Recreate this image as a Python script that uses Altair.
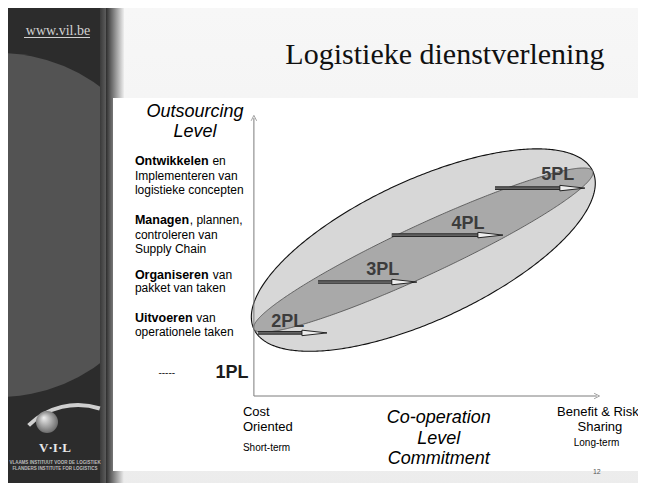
import altair as alt
import numpy as np
import pandas as pd

# ---------------- data (diagram units: co-operation level x, outsourcing level y; drawn axes run 0..100) -------------
X_DOMAIN = [-71.7, 112.0]
Y_DOMAIN = [-31.3, 139.6]

ell_center = (49.4, 52.5)
ell_major = (49.4, 28.4)          # semi-diameter along the long axis
ell_minor_outer = (8.63, -22.8)   # conjugate semi-diameter, outer ellipse
ell_minor_inner = (3.08, -8.13)   # conjugate semi-diameter, inner band

pl_labels = ["2PL", "3PL", "4PL", "5PL"]
pl_label_x = [9.9, 37.6, 62.4, 88.6]
pl_label_y = [26.6, 45.3, 61.9, 79.5]
arrow_start = [1.2, 18.7, 40.2, 70.3]
arrow_end = [21.3, 47.5, 72.6, 96.5]
arrow_level = [22.7, 41.0, 57.9, 74.8]

bold_words = ["Ontwikkelen", "Managen", "Organiseren", "Uitvoeren"]
bold_x = [-34.7, -34.7, -34.7, -34.7]
bold_y = [84.5, 63.3, 43.5, 28.1]

reg_text = ["en", "Implementeren van", "logistieke concepten", ", plannen,", "controleren van",
            "Supply Chain", "van", "pakket van taken", "van", "operationele taken"]
reg_x = [-12.1, -34.7, -34.7, -18.7, -34.7, -34.7, -12.0, -34.7, -16.8, -34.7]
reg_y = [84.5, 79.1, 74.1, 63.3, 57.9, 52.9, 43.5, 38.8, 28.1, 23.0]

axis_title_text = ["Outsourcing", "Level", "Co-operation", "Level", "Commitment"]
axis_title_x = [-17.2, -17.2, 53.9, 53.9, 53.9]
axis_title_y = [102.2, 95.0, -8.0, -15.6, -22.8]

end_left_text = ["Cost", "Oriented"]
end_left_x = [-3.2, -3.2]
end_left_y = [-5.6, -11.0]
end_right_text = ["Benefit & Risk", "Sharing"]
end_right_x = [100.3, 100.9]
end_right_y = [-5.6, -11.0]
term_text = ["Short-term", "Long-term"]
term_x = [-3.2, 99.9]
term_y = [-18.8, -17.0]

W, H = 630, 475
xs = alt.Scale(domain=X_DOMAIN, nice=False, zero=False)
ys = alt.Scale(domain=Y_DOMAIN, nice=False, zero=False)
SANS = "Liberation Sans"
SERIF = "Liberation Serif"


def ellipse_area(center, major, minor, n=240):
    cx, cy = center
    ax, ay = major
    bx, by = minor
    r = np.hypot(ax, bx)
    phi = np.arctan2(bx, ax)
    s = np.linspace(0, np.pi, n)
    w = np.pi - s
    x = cx + r * np.cos(w)
    t1, t2 = phi + w, phi - w
    y1 = cy + ay * np.cos(t1) + by * np.sin(t1)
    y2 = cy + ay * np.cos(t2) + by * np.sin(t2)
    return pd.DataFrame({"x": x, "y": y1, "y2": y2})


one = pd.DataFrame({"k": [0]})


def rect(x1, x2, y1, y2, color):
    return alt.Chart(one).mark_rect(color=color).encode(
        x=alt.value(x1 - 8), x2=alt.value(x2 - 8), y=alt.value(y1 - 8), y2=alt.value(y2 - 8))


def grad(c1, c2, horizontal=True):
    return alt.Gradient(gradient="linear",
                        stops=[alt.GradientStop(color=c1, offset=0), alt.GradientStop(color=c2, offset=1)],
                        x1=0, x2=1 if horizontal else 0, y1=0, y2=0 if horizontal else 1)


def text_layer(texts, xv, yv, size, weight="normal", style="normal", align="left",
               color="#000000", font=SANS, baseline="middle"):
    df = pd.DataFrame({"t": texts, "x": xv, "y": yv})
    return alt.Chart(df).mark_text(fontSize=size, fontWeight=weight, fontStyle=style, align=align,
                                   color=color, font=font, baseline=baseline).encode(
        x=alt.X("x:Q", scale=xs, axis=None), y=alt.Y("y:Q", scale=ys, axis=None), text="t:N")


# ---------------- slide frame ----------------
layers = []
layers.append(rect(8, 646, 8, 491, grad("#f7f7f7", "#ececec", horizontal=False)))
layers.append(rect(8, 107, 8, 491, "#2c2c2c"))
layers.append(alt.Chart(one).mark_arc(theta=0, theta2=np.pi, radius=172, color="#535353").encode(
    x=alt.value(-10), y=alt.value(217)))
layers.append(rect(100, 106, 8, 491, grad("#3a3a3a", "#5c5c5c")))
layers.append(rect(106, 124, 8, 491, grad("#2e2e2e", "#eeeeee")))
layers.append(rect(113, 646, 98, 471, "#ffffff"))

# web address and logo in the side bar
layers.append(alt.Chart(pd.DataFrame({"t": ["www.vil.be"]})).mark_text(
    font=SERIF, fontSize=14, color="#d2d2d2", align="center", baseline="alphabetic").encode(
    x=alt.value(58 - 8), y=alt.value(35 - 8), text="t:N"))
layers.append(alt.Chart(one).mark_rule(color="#d2d2d2", strokeWidth=1).encode(
    x=alt.value(24 - 8), x2=alt.value(90 - 8), y=alt.value(37.5 - 8)))
layers.append(alt.Chart(one).mark_arc(theta=5.5, theta2=6.6, radius=72, radius2=68,
                                      color="#cfcfcf").encode(x=alt.value(78 - 8), y=alt.value(475 - 8)))
layers.append(alt.Chart(one).mark_arc(theta=0, theta2=2 * np.pi, radius=11, color=alt.Gradient(
    gradient="radial", stops=[alt.GradientStop(color="#f0f0f0", offset=0),
                              alt.GradientStop(color="#5a5a5a", offset=1)],
    x1=0.35, y1=0.3, r1=0, x2=0.5, y2=0.5, r2=0.6)).encode(x=alt.value(47 - 8), y=alt.value(422 - 8)))
layers.append(alt.Chart(pd.DataFrame({"t": ["V·I·L"]})).mark_text(
    font=SERIF, fontSize=13, fontWeight="bold", color="#e8e8e8", align="center").encode(
    x=alt.value(55 - 8), y=alt.value(448 - 8), text="t:N"))
layers.append(alt.Chart(pd.DataFrame({"t": ["VLAAMS INSTITUUT VOOR DE LOGISTIEK",
                                            "FLANDERS INSTITUTE FOR LOGISTICS"],
                                      "py": [463 - 8, 469 - 8]})).mark_text(
    font=SANS, fontSize=4.5, fontWeight="bold", color="#bdbdbd", align="center").encode(
    x=alt.value(55 - 8), y=alt.Y("py:Q", scale=None), text="t:N"))

# ---------------- diagram ----------------
outer = ellipse_area(ell_center, ell_major, ell_minor_outer)
inner = ellipse_area(ell_center, ell_major, ell_minor_inner)
layers.append(alt.Chart(outer).mark_area(orient="vertical", fill="#d7d7d7", stroke="#111111",
                                         strokeWidth=1.1).encode(
    x=alt.X("x:Q", scale=xs, axis=None), y=alt.Y("y:Q", scale=ys, axis=None), y2="y2:Q"))
layers.append(alt.Chart(inner).mark_area(orient="vertical", fill="#a9a9a9", stroke="#4a4a4a",
                                         strokeWidth=0.8).encode(
    x=alt.X("x:Q", scale=xs, axis=None), y=alt.Y("y:Q", scale=ys, axis=None), y2="y2:Q"))

# axes of the diagram
axes_df = pd.DataFrame({"x": [0, 0], "x2": [0, 100], "y": [0, 0], "y2": [100, 0]})
layers.append(alt.Chart(axes_df).mark_rule(color="#7c7c7c", strokeWidth=1).encode(
    x=alt.X("x:Q", scale=xs, axis=None), x2="x2:Q", y=alt.Y("y:Q", scale=ys, axis=None), y2="y2:Q"))
tips = pd.DataFrame({"x": [0], "y": [100]})
layers.append(alt.Chart(tips).mark_point(shape="M-1,1L0,-1L1,1", size=30, filled=False,
                                         color="#7c7c7c", strokeWidth=1).encode(
    x=alt.X("x:Q", scale=xs, axis=None), y=alt.Y("y:Q", scale=ys, axis=None)))
tips2 = pd.DataFrame({"x": [100], "y": [0]})
layers.append(alt.Chart(tips2).mark_point(shape="M-1,-1L1,0L-1,1", size=30, filled=False,
                                          color="#7c7c7c", strokeWidth=1).encode(
    x=alt.X("x:Q", scale=xs, axis=None), y=alt.Y("y:Q", scale=ys, axis=None)))

# arrows
arr = pd.DataFrame({"x": arrow_start, "x2": arrow_end, "y": arrow_level})
layers.append(alt.Chart(arr).mark_rule(color="#2a2a2a", strokeWidth=3.6, x2Offset=-22).encode(
    x=alt.X("x:Q", scale=xs, axis=None), x2="x2:Q", y=alt.Y("y:Q", scale=ys, axis=None)))
layers.append(alt.Chart(arr).mark_rule(color="#8c8c8c", strokeWidth=1, x2Offset=-22).encode(
    x=alt.X("x:Q", scale=xs, axis=None), x2="x2:Q", y=alt.Y("y:Q", scale=ys, axis=None)))
layers.append(alt.Chart(arr).mark_point(shape="M-1,-0.22L1,0L-1,0.22Z", size=625, filled=True,
                                        fill="#eeeeee", stroke="#111111", strokeWidth=0.9,
                                        opacity=1, xOffset=-12.5).encode(
    x=alt.X("x2:Q", scale=xs, axis=None), y=alt.Y("y:Q", scale=ys, axis=None)))

# ---------------- texts ----------------
layers.append(text_layer(pl_labels, pl_label_x, pl_label_y, 18, weight="bold", align="center",
                         color="#3c3c3c"))
layers.append(text_layer(["1PL"], [-6.4], [8.3], 18, weight="bold", align="center", color="#1c1c1c"))
layers.append(text_layer(["-----"], [-25.4], [8.3], 10, align="center", color="#222222"))
layers.append(text_layer(bold_words, bold_x, bold_y, 12.5, weight="bold"))
layers.append(text_layer(reg_text, reg_x, reg_y, 12))
layers.append(text_layer(axis_title_text, axis_title_x, axis_title_y, 18, style="italic", align="center"))
layers.append(text_layer(end_left_text, end_left_x, end_left_y, 13))
layers.append(text_layer(end_right_text, end_right_x, end_right_y, 13, align="center"))
layers.append(text_layer(term_text[:1], term_x[:1], term_y[:1], 10))
layers.append(text_layer(term_text[1:], term_x[1:], term_y[1:], 10, align="center"))
layers.append(text_layer(["Logistieke dienstverlening"], [55.7], [119.4], 30, align="center",
                         font=SERIF, color="#111111", baseline="alphabetic"))
layers.append(text_layer(["12"], [100.0], [-27.5], 7, align="center", color="#555555"))

chart = alt.layer(*layers).properties(width=W, height=H, padding=0).configure_view(
    strokeWidth=0).configure(autosize=alt.AutoSizeParams(type="none"))

chart.save("out.html", embed_options={"renderer": "svg", "actions": False})
